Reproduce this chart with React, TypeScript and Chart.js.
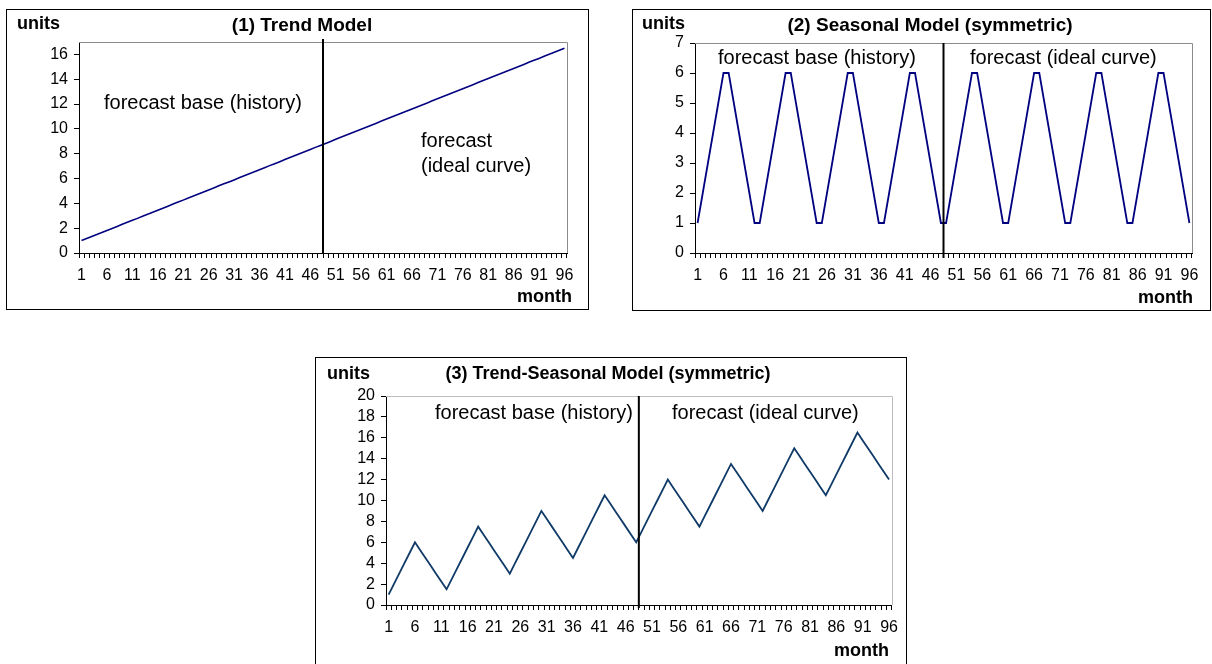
import React, { useEffect, useRef } from 'react';
import { Chart, registerables } from 'chart.js';

Chart.register(...registerables);

const FONT = '"Liberation Sans", Arial, sans-serif';

// ---------- data ----------
const months = [
  '1', '2', '3', '4', '5', '6', '7', '8', '9', '10', '11', '12',
  '13', '14', '15', '16', '17', '18', '19', '20', '21', '22', '23', '24',
  '25', '26', '27', '28', '29', '30', '31', '32', '33', '34', '35', '36',
  '37', '38', '39', '40', '41', '42', '43', '44', '45', '46', '47', '48',
  '49', '50', '51', '52', '53', '54', '55', '56', '57', '58', '59', '60',
  '61', '62', '63', '64', '65', '66', '67', '68', '69', '70', '71', '72',
  '73', '74', '75', '76', '77', '78', '79', '80', '81', '82', '83', '84',
  '85', '86', '87', '88', '89', '90', '91', '92', '93', '94', '95', '96',
];

const trendValues = [
  1.0, 1.16, 1.33, 1.49, 1.65, 1.82, 1.98, 2.14, 2.31, 2.47, 2.63, 2.79,
  2.96, 3.12, 3.28, 3.45, 3.61, 3.77, 3.94, 4.1, 4.26, 4.43, 4.59, 4.75,
  4.92, 5.08, 5.24, 5.41, 5.57, 5.73, 5.89, 6.06, 6.22, 6.38, 6.55, 6.71,
  6.87, 7.04, 7.2, 7.36, 7.53, 7.69, 7.85, 8.02, 8.18, 8.34, 8.51, 8.67,
  8.83, 8.99, 9.16, 9.32, 9.48, 9.65, 9.81, 9.97, 10.14, 10.3, 10.46, 10.63,
  10.79, 10.95, 11.12, 11.28, 11.44, 11.61, 11.77, 11.93, 12.09, 12.26, 12.42, 12.58,
  12.75, 12.91, 13.07, 13.24, 13.4, 13.56, 13.73, 13.89, 14.05, 14.22, 14.38, 14.54,
  14.71, 14.87, 15.03, 15.19, 15.36, 15.52, 15.68, 15.85, 16.01, 16.17, 16.34, 16.5,
];

const seasonalValues = [
  1, 2, 3, 4, 5, 6, 6, 5, 4, 3, 2, 1,
  1, 2, 3, 4, 5, 6, 6, 5, 4, 3, 2, 1,
  1, 2, 3, 4, 5, 6, 6, 5, 4, 3, 2, 1,
  1, 2, 3, 4, 5, 6, 6, 5, 4, 3, 2, 1,
  1, 2, 3, 4, 5, 6, 6, 5, 4, 3, 2, 1,
  1, 2, 3, 4, 5, 6, 6, 5, 4, 3, 2, 1,
  1, 2, 3, 4, 5, 6, 6, 5, 4, 3, 2, 1,
  1, 2, 3, 4, 5, 6, 6, 5, 4, 3, 2, 1,
];

const trendSeasonalValues = [
  1, 2, 3, 4, 5, 6, 5.25, 4.5, 3.75, 3, 2.25, 1.5,
  2.5, 3.5, 4.5, 5.5, 6.5, 7.5, 6.75, 6, 5.25, 4.5, 3.75, 3,
  4, 5, 6, 7, 8, 9, 8.25, 7.5, 6.75, 6, 5.25, 4.5,
  5.5, 6.5, 7.5, 8.5, 9.5, 10.5, 9.75, 9, 8.25, 7.5, 6.75, 6,
  7, 8, 9, 10, 11, 12, 11.25, 10.5, 9.75, 9, 8.25, 7.5,
  8.5, 9.5, 10.5, 11.5, 12.5, 13.5, 12.75, 12, 11.25, 10.5, 9.75, 9,
  10, 11, 12, 13, 14, 15, 14.25, 13.5, 12.75, 12, 11.25, 10.5,
  11.5, 12.5, 13.5, 14.5, 15.5, 16.5, 15.75, 15, 14.25, 13.5, 12.75, 12,
];

// y-axis ranges: [min, max, step]
const trendAxis = [0, 17, 2];
const seasonalAxis = [0, 7, 1];
const trendSeasonalAxis = [0, 20, 2];

// split between month 48 and 49 (index)
const splitIndex = 47;

// ---------- plugin ----------
const decorPlugin = {
  id: 'decor',
  beforeDatasetsDraw(chart: any, _a: any, opts: any) {
    const { left, right, top, bottom } = chart.chartArea;
    const ctx = chart.ctx;
    ctx.save();
    ctx.strokeStyle = opts.frameColor;
    ctx.lineWidth = 1;
    ctx.beginPath();
    ctx.moveTo(left, Math.round(top) + 0.5);
    ctx.lineTo(Math.round(right) + 0.5, Math.round(top) + 0.5);
    ctx.lineTo(Math.round(right) + 0.5, bottom);
    ctx.stroke();
    ctx.restore();
  },
  afterDraw(chart: any, _a: any, opts: any) {
    const { top, bottom } = chart.chartArea;
    const ctx = chart.ctx;
    const xs = chart.scales.x;
    const xd = (xs.getPixelForValue(opts.split) + xs.getPixelForValue(opts.split + 1)) / 2;
    ctx.save();
    ctx.strokeStyle = '#000';
    ctx.lineWidth = 2;
    ctx.beginPath();
    ctx.moveTo(xd, top + opts.divTop);
    ctx.lineTo(xd, bottom + opts.divBottom);
    ctx.stroke();
    ctx.fillStyle = '#000';
    for (const t of opts.texts) {
      ctx.font = t.font;
      ctx.textAlign = t.align;
      ctx.textBaseline = t.baseline;
      ctx.fillText(t.text, t.x, t.y);
    }
    ctx.restore();
  },
};

type Panel = {
  box: { left: number; top: number; width: number; height: number };
  area: { left: number; right: number; top: number; bottom: number };
  values: number[];
  axis: number[];
  color: string;
  lineWidth: number;
  frameColor: string;
  divTop: number;
  divBottom: number;
  texts: any[];
};

function ChartPanel({ p }: { p: Panel }) {
  const ref = useRef<HTMLCanvasElement | null>(null);
  const cw = p.box.width - 2;
  const ch = p.box.height - 2;
  useEffect(() => {
    if (!ref.current) return;
    const chart = new Chart(ref.current, {
      type: 'line',
      data: {
        labels: months,
        datasets: [
          {
            data: p.values,
            borderColor: p.color,
            borderWidth: p.lineWidth,
            pointRadius: 0,
            tension: 0,
            fill: false,
          },
        ],
      },
      options: {
        responsive: false,
        animation: false,
        devicePixelRatio: 1,
        layout: {
          padding: { top: p.area.top, right: cw - p.area.right, left: 0, bottom: 0 },
        },
        plugins: {
          legend: { display: false },
          tooltip: { enabled: false },
          title: { display: false },
          decor: {
            frameColor: p.frameColor,
            split: splitIndex,
            divTop: p.divTop,
            divBottom: p.divBottom,
            texts: p.texts,
          },
        } as any,
        scales: {
          x: {
            type: 'category',
            offset: true,
            grid: {
              offset: true,
              drawOnChartArea: false,
              drawTicks: true,
              tickLength: 5,
              color: '#000',
              lineWidth: 1,
            },
            border: { color: '#000', width: 1 },
            ticks: {
              autoSkip: false,
              maxRotation: 0,
              minRotation: 0,
              padding: 8,
              color: '#000',
              font: { family: FONT, size: 16 },
              callback: (_v: any, i: number) => (i % 5 === 0 ? months[i] : ''),
            },
            afterFit: (s: any) => {
              s.height = ch - p.area.bottom;
            },
          },
          y: {
            type: 'linear',
            min: p.axis[0],
            max: p.axis[1],
            grid: {
              drawOnChartArea: false,
              drawTicks: true,
              tickLength: 5,
              color: '#000',
            },
            border: { color: '#000', width: 1 },
            ticks: {
              stepSize: p.axis[2],
              includeBounds: false,
              autoSkip: false,
              padding: 6,
              color: '#000',
              font: { family: FONT, size: 16 },
            },
            afterFit: (s: any) => {
              s.width = p.area.left;
            },
          },
        },
      } as any,
      plugins: [decorPlugin],
    });
    return () => chart.destroy();
  }, []);
  return (
    <div
      style={{
        position: 'absolute',
        left: p.box.left,
        top: p.box.top,
        width: p.box.width,
        height: p.box.height,
        border: '1px solid #000',
        boxSizing: 'border-box',
        background: '#fff',
      }}
    >
      <canvas ref={ref} width={cw} height={ch} style={{ display: 'block', width: cw, height: ch }} />
    </div>
  );
}

const bold = (s: number) => `bold ${s}px ${FONT}`;
const reg = (s: number) => `${s}px ${FONT}`;

const panels: Panel[] = [
  {
    box: { left: 6, top: 9, width: 583, height: 301 },
    area: { left: 72, right: 560, top: 32, bottom: 243 },
    values: trendValues,
    axis: trendAxis,
    color: '#000080',
    lineWidth: 1.6,
    frameColor: '#8c8c8c',
    divTop: -3,
    divBottom: 1,
    texts: [
      { text: 'units', x: 10, y: 19, font: bold(18), align: 'left', baseline: 'alphabetic' },
      { text: '(1) Trend Model', x: 295, y: 21, font: bold(19), align: 'center', baseline: 'alphabetic' },
      { text: 'month', x: 565, y: 292, font: bold(18), align: 'right', baseline: 'alphabetic' },
      { text: 'forecast base (history)', x: 97, y: 93, font: reg(20), align: 'left', baseline: 'middle' },
      { text: 'forecast', x: 414, y: 131, font: reg(20), align: 'left', baseline: 'middle' },
      { text: '(ideal curve)', x: 414, y: 156, font: reg(20), align: 'left', baseline: 'middle' },
    ],
  },
  {
    box: { left: 632, top: 9, width: 579, height: 302 },
    area: { left: 62, right: 559, top: 33, bottom: 243 },
    values: seasonalValues,
    axis: seasonalAxis,
    color: '#000080',
    lineWidth: 1.8,
    frameColor: '#8c8c8c',
    divTop: 0,
    divBottom: 5,
    texts: [
      { text: 'units', x: 9, y: 19, font: bold(18), align: 'left', baseline: 'alphabetic' },
      { text: '(2) Seasonal Model (symmetric)', x: 297, y: 21, font: bold(19), align: 'center', baseline: 'alphabetic' },
      { text: 'month', x: 560, y: 293, font: bold(18), align: 'right', baseline: 'alphabetic' },
      { text: 'forecast base (history)', x: 85, y: 48, font: reg(20), align: 'left', baseline: 'middle' },
      { text: 'forecast (ideal curve)', x: 337, y: 48, font: reg(20), align: 'left', baseline: 'middle' },
    ],
  },
  {
    box: { left: 315, top: 357, width: 592, height: 312 },
    area: { left: 70, right: 579, top: 38, bottom: 247 },
    values: trendSeasonalValues,
    axis: trendSeasonalAxis,
    color: '#0f3a68',
    lineWidth: 1.8,
    frameColor: '#bdbdbd',
    divTop: 0,
    divBottom: 3,
    texts: [
      { text: 'units', x: 11, y: 21, font: bold(18), align: 'left', baseline: 'alphabetic' },
      { text: '(3) Trend-Seasonal Model (symmetric)', x: 292, y: 21, font: bold(18), align: 'center', baseline: 'alphabetic' },
      { text: 'month', x: 573, y: 298, font: bold(18), align: 'right', baseline: 'alphabetic' },
      { text: 'forecast base (history)', x: 119, y: 55, font: reg(20), align: 'left', baseline: 'middle' },
      { text: 'forecast (ideal curve)', x: 356, y: 55, font: reg(20), align: 'left', baseline: 'middle' },
    ],
  },
];

export default function App() {
  return (
    <div
      style={{
        position: 'fixed',
        left: 0,
        top: 0,
        width: 1212,
        height: 664,
        overflow: 'hidden',
        background: '#fff',
      }}
    >
      {panels.map((p, i) => (
        <ChartPanel key={i} p={p} />
      ))}
    </div>
  );
}
